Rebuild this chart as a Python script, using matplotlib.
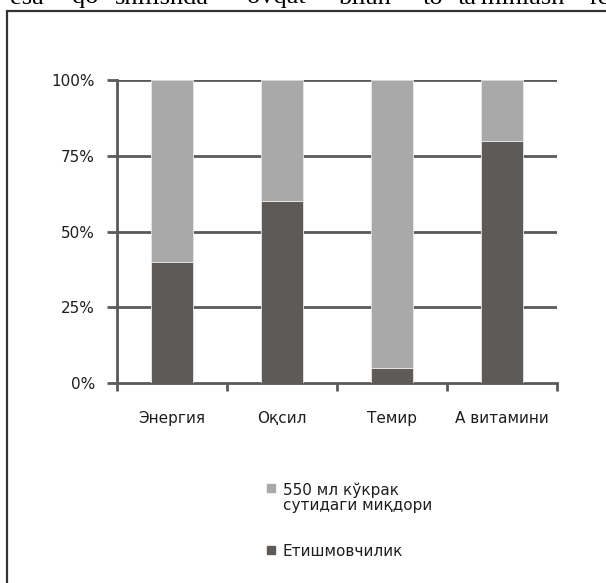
import matplotlib
matplotlib.use("Agg")
import matplotlib.pyplot as plt
from matplotlib.patches import Rectangle
import numpy as np

categories = ["Энергия", "Оқсил", "Темир", "А витамини"]
deficit = [40, 60, 5, 80]           # Етишмовчилик
milk = [60, 40, 95, 20]             # 550 мл кўкрак сутидаги миқдори
yticks = [0, 25, 50, 75, 100]
ytick_labels = ["0%", "25%", "50%", "75%", "100%"]
legend_labels = ["550 мл кўкрак\nсутидаги миқдори", "Етишмовчилик"]
top_words = ["esa", "qo", "shilishda", "ovqat", "bilan", "to", "ta'minlash", "re"]

W, H = 606, 583
fig = plt.figure(figsize=(W/100, H/100), dpi=100)
plt.rcParams['font.family'] = ['DejaVu Sans']

# outer frame
fig.patches.append(Rectangle((7/W, -0.1), 1.2, 1 - 10.5/H + 0.1, transform=fig.transFigure,
                             fill=False, edgecolor="#333333", linewidth=1.6))
# clipped line of body text above the frame (only its lower part shows)
word_x = [10, 72, 115, 247, 338, 423, 458, 590]
for wx, wtxt in zip(word_x, top_words):
    fig.text(wx/W, 1 - 3.5/H, wtxt, family="Liberation Serif", fontsize=19,
             va="baseline", ha="left", color="#000000")

ax = fig.add_axes([117/W, 1 - 383/H, (557-117)/W, (383-80)/H])
dark = "#5e5a58"
light = "#a9a9a9"
grid = "#5a5a5a"
x = np.arange(len(categories))
ax.bar(x, deficit, width=0.39, color=dark, edgecolor="#e8e8e8", linewidth=0.6, zorder=3)
ax.bar(x, milk, width=0.39, bottom=deficit, color=light, edgecolor="#e8e8e8", linewidth=0.6, zorder=3)

ax.set_xlim(-0.5, len(categories) - 0.5)
ax.set_ylim(0, 100)
ax.set_yticks(yticks)
ax.set_yticklabels(ytick_labels, fontsize=11, color="#1e1e1e")
for yv in yticks[1:]:
    ax.axhline(yv, color=grid, linewidth=2, zorder=1)
ax.set_xticks(np.arange(len(categories) + 1) - 0.5)
ax.set_xticklabels([])
ax.set_xticks(x, minor=True)
ax.set_xticklabels(categories, minor=True, fontsize=11, color="#1e1e1e")
ax.tick_params(axis="x", which="minor", length=0, pad=20)
ax.tick_params(axis="x", which="major", length=6, width=2, color=grid, direction="out")
ax.tick_params(axis="y", length=7, width=2, color=grid, direction="out", pad=9)
for s in ["top", "right"]:
    ax.spines[s].set_visible(False)
for s in ["left", "bottom"]:
    ax.spines[s].set_color(grid)
    ax.spines[s].set_linewidth(2)

# legend
fig.patches.append(Rectangle((267/W, 1 - 492/H), 8/W, 8/H, transform=fig.transFigure,
                             color=light))
fig.patches.append(Rectangle((267/W, 1 - 554/H), 8/W, 8/H, transform=fig.transFigure,
                             color=dark))
fig.text(283/W, 1 - 497.5/H, legend_labels[0], fontsize=11, color="#1e1e1e", va="center",
         ha="left", linespacing=1.0)
fig.text(283/W, 1 - 551/H, legend_labels[1], fontsize=11, color="#1e1e1e", va="center", ha="left")

fig.savefig("out.png", dpi=100)
